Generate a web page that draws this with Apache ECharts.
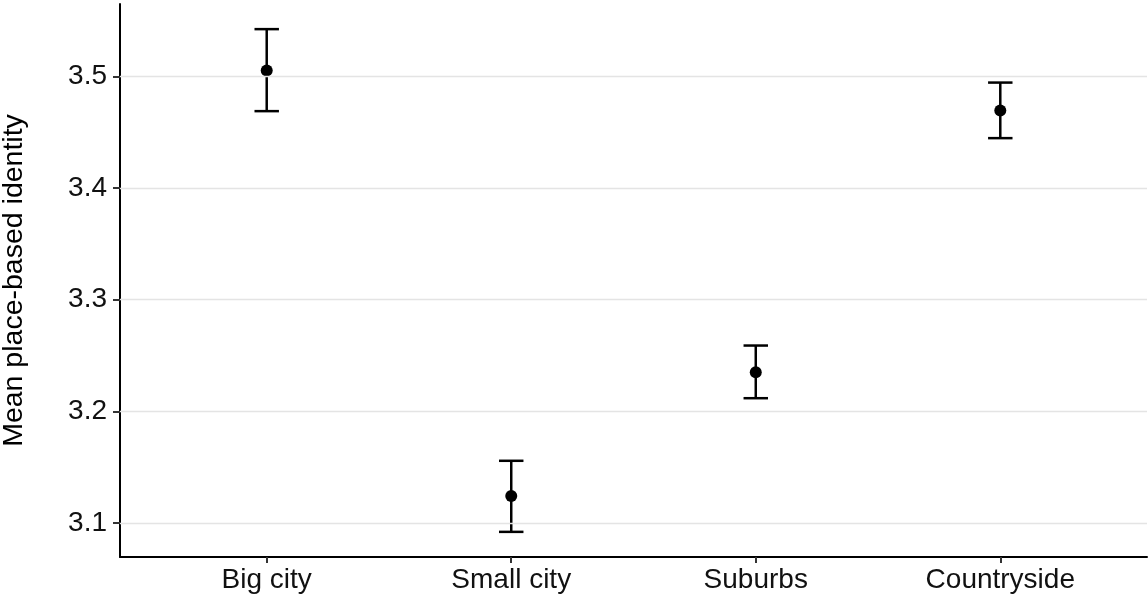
<!DOCTYPE html>
<html>
<head>
<meta charset="utf-8">
<script src="https://cdn.jsdelivr.net/npm/echarts@6/dist/echarts.min.js"></script>
<style>
  html, body { margin: 0; padding: 0; background: #fff; }
  #chart { width: 1148px; height: 599px; }
</style>
</head>
<body>
<div id="chart"></div>
<script>
// Place type categories and the mean place-based identity with its interval
const categories = ['Big city', 'Small city', 'Suburbs', 'Countryside'];
const means = [3.5054, 3.124, 3.235, 3.4695];
const lower = [3.469, 3.0919, 3.2117, 3.4448];
const upper = [3.5425, 3.1556, 3.2589, 3.4946];
const yTicks = [3.1, 3.2, 3.3, 3.4, 3.5];

const FONT = '"Liberation Sans", Arial, sans-serif';
const INK = '#000';

// Positions 1..n on a continuous x scale, padded by 0.6 on each side
const xPos = categories.map((_, i) => i + 1);
const xMin = 0.4, xMax = categories.length + 0.6;

// y extent: data range expanded by 5% on each side
const lo = Math.min(...lower), hi = Math.max(...upper);
const pad = (hi - lo) * 0.05;
const yMin = lo - pad, yMax = hi + pad;

const capWidth = 0.1; // whisker width in x units

const chart = echarts.init(document.getElementById('chart'), null, { renderer: 'canvas' });

chart.setOption({
  animation: false,
  backgroundColor: '#fff',
  grid: { left: 120, right: 1, top: 4, bottom: 42, containLabel: false, outerBoundsMode: 'none' },
  xAxis: {
    type: 'value',
    min: xMin,
    max: xMax,
    axisLine: { show: true, lineStyle: { color: INK, width: 2 } },
    axisTick: { show: true, length: 6, customValues: xPos, lineStyle: { color: '#333', width: 2 } },
    axisLabel: {
      customValues: xPos,
      formatter: v => categories[Math.round(v) - 1] || '',
      color: '#111',
      fontFamily: FONT,
      fontSize: 28,
      margin: 9
    },
    splitLine: { show: false }
  },
  yAxis: {
    type: 'value',
    min: yMin,
    max: yMax,
    name: 'Mean place-based identity',
    nameLocation: 'middle',
    nameGap: 91,
    nameTextStyle: { color: '#000', fontFamily: FONT, fontSize: 28.5 },
    axisLine: { show: true, lineStyle: { color: INK, width: 2 } },
    axisTick: { show: true, length: 7, customValues: yTicks, lineStyle: { color: '#333', width: 2 } },
    axisLabel: {
      customValues: yTicks,
      formatter: v => v.toFixed(1),
      color: '#111',
      fontFamily: FONT,
      fontSize: 28,
      margin: 13
    },
    splitLine: { show: false }
  },
  series: [
    {
      // horizontal reference lines at the y ticks
      type: 'line',
      data: [],
      silent: true,
      z: 1,
      markLine: {
        silent: true,
        symbol: ['none', 'none'],
        label: { show: false },
        lineStyle: { color: '#e4e4e4', width: 1.4, type: 'solid' },
        data: yTicks.map(v => ({ yAxis: v }))
      }
    },
    {
      // error bars with whisker caps
      type: 'custom',
      z: 3,
      data: xPos.map((x, i) => [x, lower[i], upper[i]]),
      renderItem: (params, api) => {
        const x = api.value(0);
        const l = api.value(1);
        const u = api.value(2);
        const pTop = api.coord([x, u]);
        const pBot = api.coord([x, l]);
        const capL = api.coord([x - capWidth / 2, u])[0];
        const capR = api.coord([x + capWidth / 2, u])[0];
        const style = { stroke: INK, lineWidth: 2.5, fill: null };
        return {
          type: 'group',
          children: [
            { type: 'line', shape: { x1: pTop[0], y1: pTop[1], x2: pBot[0], y2: pBot[1] }, style },
            { type: 'line', shape: { x1: capL, y1: pTop[1], x2: capR, y2: pTop[1] }, style },
            { type: 'line', shape: { x1: capL, y1: pBot[1], x2: capR, y2: pBot[1] }, style }
          ]
        };
      }
    },
    {
      // mean points
      type: 'scatter',
      z: 4,
      symbol: 'circle',
      symbolSize: 12,
      itemStyle: { color: INK, opacity: 1 },
      data: xPos.map((x, i) => [x, means[i]])
    }
  ]
});
</script>
</body>
</html>
